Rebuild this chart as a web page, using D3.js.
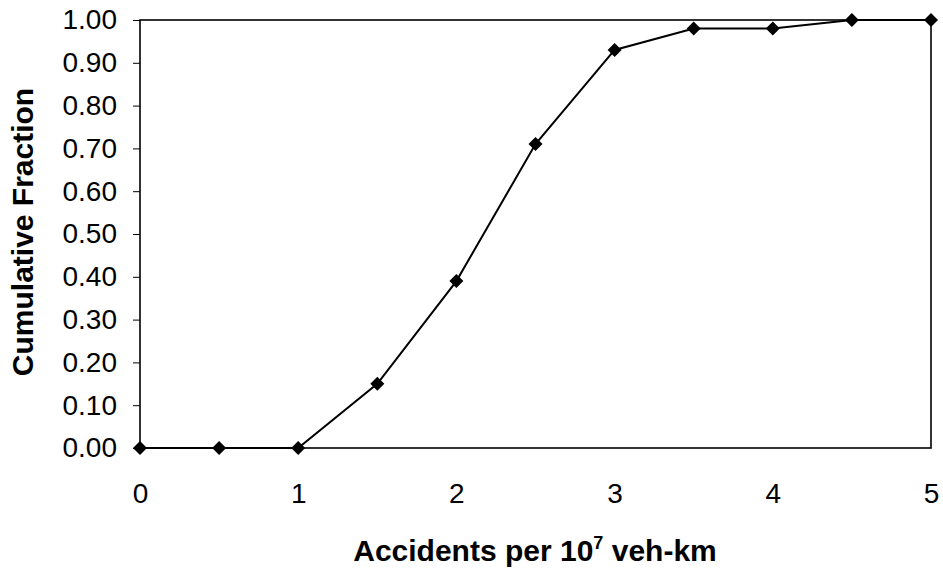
<!DOCTYPE html>
<html>
<head>
<meta charset="utf-8">
<script src="https://cdn.jsdelivr.net/npm/d3@7"></script>
<style>
	body { margin: 0; background: #fff; }
	svg text { font-family: "Liberation Sans", Arial, sans-serif; fill: #000; }
	.tick text { font-size: 28px; }
	.title { font-size: 30px; font-weight: bold; }
</style>
</head>
<body>
<div id="chart"></div>
<script>
var xVals = [0, 0.5, 1, 1.5, 2, 2.5, 3, 3.5, 4, 4.5, 5],
	cumFraction = [0, 0, 0, 0.15, 0.39, 0.71, 0.93, 0.98, 0.98, 1.00, 1.00],
	xTicks = [0, 1, 2, 3, 4, 5],
	yTicks = [0, 0.1, 0.2, 0.3, 0.4, 0.5, 0.6, 0.7, 0.8, 0.9, 1.0];

var W = 943, H = 573,
	m = {top: 20, right: 12, bottom: 125, left: 140},
	w = W - m.left - m.right,
	h = H - m.top - m.bottom;

var svg = d3.select('#chart').append('svg').attr('width', W).attr('height', H),
	g = svg.append('g').attr('transform', 'translate(' + m.left + ',' + m.top + ')');

var x = d3.scaleLinear().domain([0, 5]).range([0, w]),
	y = d3.scaleLinear().domain([0, 1]).range([h, 0]);

// frame
g.append('rect').attr('width', w).attr('height', h)
	.attr('fill', 'none').attr('stroke', '#000').attr('stroke-width', 1.6);

var yAxis = g.append('g')
	.call(d3.axisLeft(y).tickValues(yTicks).tickFormat(d3.format('.2f')).tickSize(7).tickPadding(16));
yAxis.select('.domain').remove();
yAxis.selectAll('.tick line').attr('stroke-width', 1);

var xAxis = g.append('g').attr('transform', 'translate(0,' + h + ')')
	.call(d3.axisBottom(x).tickValues(xTicks).tickFormat(d3.format('d')).tickSize(0).tickPadding(35));
xAxis.select('.domain').remove();

// data line
var pts = xVals.map(function(d, i){ return [d, cumFraction[i]]; });
g.append('path').datum(pts)
	.attr('fill', 'none').attr('stroke', '#000').attr('stroke-width', 2)
	.attr('d', d3.line().x(function(d){ return x(d[0]); }).y(function(d){ return y(d[1]); }));

g.selectAll('.pt').data(pts).enter()
	.append('path').attr('class', 'pt')
	.attr('d', d3.symbol(d3.symbolSquare, 98))
	.attr('transform', function(d){ return 'translate(' + x(d[0]) + ',' + y(d[1]) + ') rotate(45)'; })
	.attr('fill', '#000');

// axis titles
var xt = svg.append('text').attr('class', 'title')
	.attr('x', 535).attr('y', 561).attr('text-anchor', 'middle');
xt.append('tspan').text('Accidents per 10');
xt.append('tspan').attr('dy', -12).style('font-size', '18px').text('7');
xt.append('tspan').attr('dy', 12).text(' veh-km');

svg.append('text').attr('class', 'title')
	.attr('transform', 'translate(33,232) rotate(-90)')
	.attr('text-anchor', 'middle').text('Cumulative Fraction');
</script>
</body>
</html>
